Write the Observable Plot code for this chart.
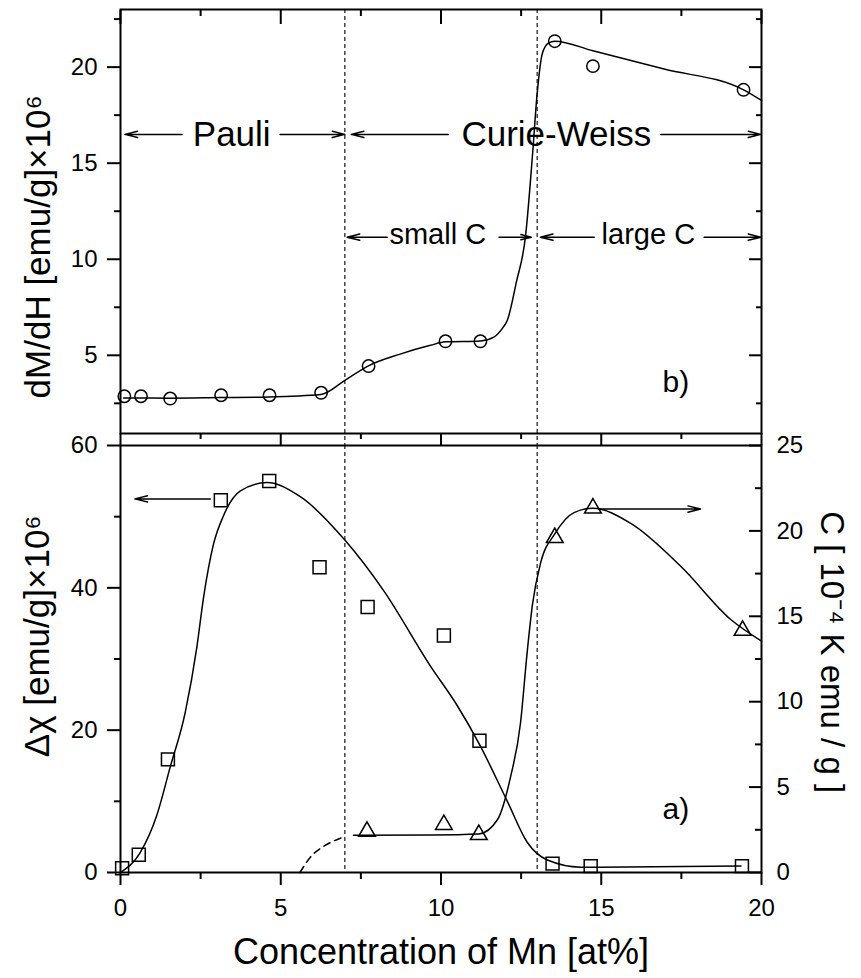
<!DOCTYPE html>
<html>
<head>
<meta charset="utf-8">
<script src="https://cdn.jsdelivr.net/npm/d3@7"></script>
<script src="https://cdn.jsdelivr.net/npm/@observablehq/plot@0.6"></script>
<style>
  body { margin: 0; background: #fff; }
  #chart { position: relative; width: 861px; height: 978px; }
  #chart svg { position: absolute; left: 0; top: 0; }
</style>
</head>
<body>
<div id="chart"></div>
<script>
// ---------- data: panel b) dM/dH ----------
const bConc = [0.12, 0.64, 1.55, 3.14, 4.65, 6.26, 7.74, 10.14, 11.23, 13.55, 14.74, 19.44];
const bDMdH = [2.87, 2.87, 2.75, 2.92, 2.92, 3.05, 4.44, 5.73, 5.73, 21.35, 20.05, 18.82];
const bFitConc = [0.1, 1.5, 3.1, 4.6, 6.25, 7.0, 7.72, 8.7, 9.67, 10.14, 11.23, 11.65, 11.91, 12.07, 12.35, 12.64, 12.85, 13.0, 13.16, 13.35, 13.55, 14.74, 16.96, 19.44, 20.0];
const bFitDMdH = [2.78, 2.77, 2.8, 2.83, 2.96, 3.7, 4.44, 5.05, 5.52, 5.7, 5.75, 5.95, 6.39, 6.82, 8.8, 11.24, 15.32, 18.62, 20.7, 21.25, 21.35, 20.85, 19.9, 18.82, 18.27];

// ---------- data: panel a) delta chi (left axis) ----------
const aConc = [0.05, 0.57, 1.48, 3.13, 4.64, 6.21, 7.71, 10.09, 11.2, 13.48, 14.67, 19.39];
const aDChi = [0.6, 2.5, 15.9, 52.3, 55.0, 42.9, 37.3, 33.3, 18.5, 1.25, 0.9, 0.9];
const chiFitConc = [0.0, 0.61, 1.13, 1.55, 2.02, 2.38, 2.59, 2.9, 3.21, 3.73, 4.57, 5.61, 7.02, 8.21, 9.67, 10.5, 11.2, 12.07, 12.69, 13.32, 14.36, 19.36];
const chiFitVal = [0, 2.75, 8.0, 14.8, 22.5, 31.6, 38.6, 46.1, 50.1, 53.6, 54.8, 52.8, 46.6, 39.6, 29.0, 23.5, 18.0, 10.0, 4.25, 1.75, 0.75, 0.9];

// ---------- data: panel a) Curie constant C (right axis) ----------
const cConc = [7.69, 10.09, 11.18, 13.55, 14.74, 19.41];
const cVal = [2.4, 2.8, 2.21, 19.6, 21.33, 14.17];
const cFitConc = [7.27, 9.67, 11.18, 11.76, 12.17, 12.48, 12.69, 12.85, 13.11, 13.55, 14.15, 14.74, 15.92, 17.48, 19.05, 20.0];
const cFitVal = [2.18, 2.2, 2.26, 3.09, 5.6, 8.74, 12.92, 15.64, 18.14, 19.82, 21.07, 21.32, 20.44, 17.93, 14.8, 13.55];
const cDashConc = [5.6, 5.97, 6.23, 6.6, 6.96];
const cDashVal = [0, 1.0, 1.4, 1.8, 2.08];

// ---------- ticks & labels ----------
const dividers = [7, 13];
const xMajor = [0, 5, 10, 15, 20];
const xMinor = [2.5, 7.5, 12.5, 17.5];
const bMajor = [5, 10, 15, 20];
const bMinor = [2.5, 7.5, 12.5, 17.5, 22.5];
const chiMajor = [0, 20, 40, 60];
const chiMinor = [10, 30, 50];
const cMajor = [0, 5, 10, 15, 20, 25];
const cMinor = [2.5, 7.5, 12.5, 17.5, 22.5];

const xTitle = "Concentration of Mn [at%]";
const bTitle = "dM/dH [emu/g]×10⁶";
const chiTitle = "Δχ [emu/g]×10⁶";
const cTitle = "C [ 10⁻⁴ K emu / g ]";

// ---------- build tables ----------
const zip = (xs, ys) => xs.map((x, i) => ({x, y: ys[i]}));
const bPts = zip(bConc, bDMdH), bFit = zip(bFitConc, bFitDMdH);
const aPts = zip(aConc, aDChi), chiFit = zip(chiFitConc, chiFitVal);
const cPts = zip(cConc, cVal), cFit = zip(cFitConc, cFitVal), cDash = zip(cDashConc, cDashVal);
const k = 60 / 25; // right axis -> left axis

const font = "'Liberation Sans', Arial, Helvetica, sans-serif";
const common = {
  width: 861, height: 978, marginLeft: 120, marginRight: 100,
  style: {fontFamily: font, background: "transparent", overflow: "visible", color: "black"}
};
const arrowOpt = {stroke: "black", strokeWidth: 1.5, headLength: 13, headAngle: 28};
const txt = {text: d => d, fill: "black", textAnchor: "middle", lineAnchor: "middle"};

const topArrows = [
  {x1: 1.92, x2: 0.14, y: 16.5}, {x1: 4.98, x2: 7.0, y: 16.5},
  {x1: 10.23, x2: 7.2, y: 16.5}, {x1: 16.86, x2: 19.98, y: 16.5},
  {x1: 8.32, x2: 7.07, y: 11.15}, {x1: 11.81, x2: 12.82, y: 11.15},
  {x1: 14.78, x2: 13.1, y: 11.15}, {x1: 18.21, x2: 19.98, y: 11.15}
];

const topPlot = Plot.plot({
  ...common,
  marginTop: 9, marginBottom: 545,
  x: {domain: [0, 20], axis: null},
  y: {domain: [0.93, 23], axis: null},
  marks: [
    Plot.ruleX(dividers, {stroke: "black", strokeWidth: 1.1, strokeDasharray: "4,3", insetBottom: -12}),
    Plot.line(bFit, {x: "x", y: "y", curve: "monotone-x", stroke: "black", strokeWidth: 1.5}),
    Plot.dot(bPts, {x: "x", y: "y", r: 6.2, stroke: "black", strokeWidth: 1.5, fill: "none"}),
    Plot.arrow(topArrows, {x1: "x1", x2: "x2", y1: "y", y2: "y", ...arrowOpt}),
    Plot.text(["Pauli"], {...txt, x: 3.47, y: 16.5, fontSize: 35}),
    Plot.text(["Curie-Weiss"], {...txt, x: 13.6, y: 16.5, fontSize: 35}),
    Plot.text(["small C"], {...txt, x: 9.9, y: 11.3, fontSize: 29}),
    Plot.text(["large C"], {...txt, x: 16.47, y: 11.3, fontSize: 29}),
    Plot.text(["b)"], {...txt, x: 17.33, y: 3.6, fontSize: 30}),
    Plot.text([bTitle], {...txt, frameAnchor: "left", y: 10.65, dx: -82, rotate: -90, fontSize: 35}),
    Plot.frame({stroke: "black", strokeWidth: 2}),
    // x ticks: top inward, bottom outward
    Plot.axisX(xMajor, {anchor: "top", tickSize: 14, dy: 14, fill: "none", stroke: "black", strokeWidth: 2, label: null}),
    Plot.axisX(xMinor, {anchor: "top", tickSize: 6, dy: 6, fill: "none", stroke: "black", strokeWidth: 2, label: null}),
    Plot.axisX(xMajor, {anchor: "bottom", tickSize: 12, fill: "none", stroke: "black", strokeWidth: 2, label: null}),
    Plot.axisX(xMinor, {anchor: "bottom", tickSize: 6, fill: "none", stroke: "black", strokeWidth: 2, label: null}),
    // y ticks
    Plot.axisY(bMajor, {anchor: "left", tickSize: 13, tickPadding: 10, fontSize: 24, stroke: "black", fill: "black", strokeWidth: 2, label: null}),
    Plot.axisY(bMinor, {anchor: "left", tickSize: 6, fill: "none", stroke: "black", strokeWidth: 2, label: null}),
    Plot.axisY(bMajor, {anchor: "right", tickSize: 13, dx: -13, fill: "none", stroke: "black", strokeWidth: 2, label: null}),
    Plot.axisY(bMinor, {anchor: "right", tickSize: 6, dx: -6, fill: "none", stroke: "black", strokeWidth: 2, label: null})
  ]
});

const bottomArrows = [
  {x1: 2.8, x2: 0.45, y: 52.5},
  {x1: 14.92, x2: 18.1, y: 21.28 * k}
];

const bottomPlot = Plot.plot({
  ...common,
  marginTop: 445, marginBottom: 106,
  x: {domain: [0, 20], axis: null},
  y: {domain: [0, 60], axis: null},
  marks: [
    Plot.ruleX(dividers, {stroke: "black", strokeWidth: 1.1, strokeDasharray: "4,3"}),
    Plot.line(chiFit, {x: "x", y: "y", curve: "monotone-x", stroke: "black", strokeWidth: 1.5}),
    Plot.line(cFit, {x: "x", y: d => d.y * k, curve: "monotone-x", stroke: "black", strokeWidth: 1.5}),
    Plot.line(cDash, {x: "x", y: d => d.y * k, curve: "monotone-x", stroke: "black", strokeWidth: 1.5, strokeDasharray: "7,5"}),
    Plot.dot(aPts, {x: "x", y: "y", symbol: "square", r: 7.3, stroke: "black", strokeWidth: 1.5, fill: "none"}),
    Plot.dot(cPts, {x: "x", y: d => d.y * k, symbol: "triangle", r: 6.2, stroke: "black", strokeWidth: 1.5, fill: "none"}),
    Plot.arrow(bottomArrows, {x1: "x1", x2: "x2", y1: "y", y2: "y", ...arrowOpt}),
    Plot.text(["a)"], {...txt, x: 17.33, y: 3.72 * k, fontSize: 30}),
    Plot.text([chiTitle], {...txt, frameAnchor: "left", y: 33.2, dx: -83, rotate: -90, fontSize: 35}),
    Plot.text([cTitle], {...txt, frameAnchor: "right", y: 12.9 * k, dx: 70, rotate: 90, fontSize: 33}),
    Plot.text([xTitle], {...txt, x: 10, frameAnchor: "bottom", dy: 80, fontSize: 36}),
    Plot.frame({stroke: "black", strokeWidth: 2}),
    Plot.axisX(xMajor, {anchor: "bottom", tickSize: 13, tickPadding: 13, fontSize: 24, stroke: "black", fill: "black", strokeWidth: 2, label: null}),
    Plot.axisX(xMinor, {anchor: "bottom", tickSize: 7, fill: "none", stroke: "black", strokeWidth: 2, label: null}),
    Plot.axisY(chiMajor, {anchor: "left", tickSize: 13, tickPadding: 10, fontSize: 24, stroke: "black", fill: "black", strokeWidth: 2, label: null}),
    Plot.axisY(chiMinor, {anchor: "left", tickSize: 6, fill: "none", stroke: "black", strokeWidth: 2, label: null}),
    Plot.axisY(cMajor.map(v => v * k), {anchor: "right", tickSize: 13, dx: -13, fill: "none", stroke: "black", strokeWidth: 2, label: null}),
    Plot.axisY(cMinor.map(v => v * k), {anchor: "right", tickSize: 7, dx: -7, fill: "none", stroke: "black", strokeWidth: 2, label: null}),
    Plot.axisY(cMajor.map(v => v * k), {anchor: "right", tickSize: 0, tickPadding: 15, fontSize: 24, fill: "black", label: null, tickFormat: d => String(Math.round(d / k))})
  ]
});

const chart = document.getElementById("chart");
chart.append(bottomPlot);
chart.append(topPlot);
</script>
</body>
</html>
